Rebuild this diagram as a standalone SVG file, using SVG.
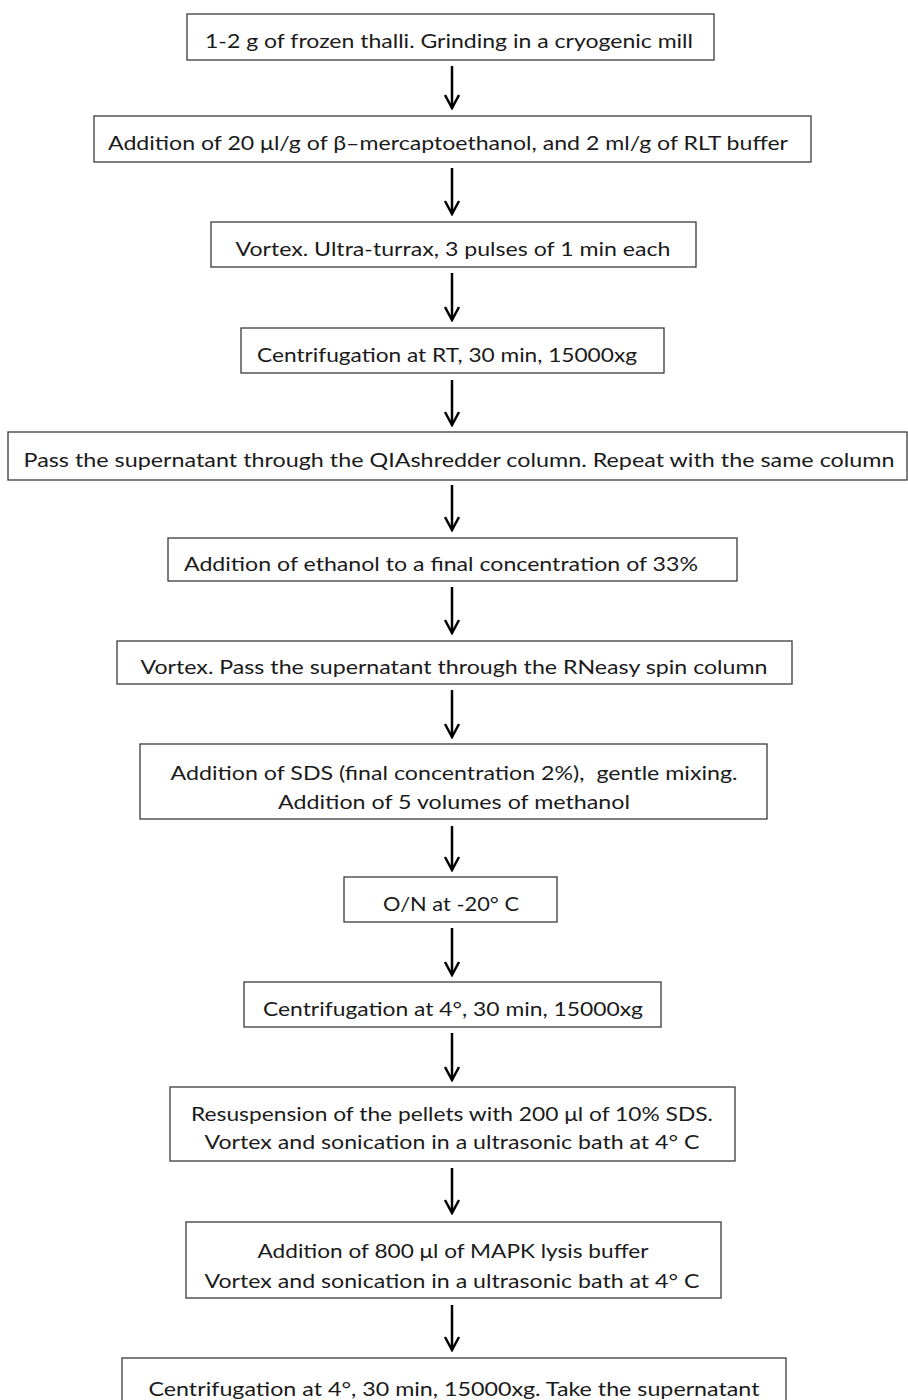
<svg xmlns="http://www.w3.org/2000/svg" width="908" height="1400" viewBox="0 0 908 1400">
<style>
.box{fill:#fff;stroke:#3a3a3a;stroke-width:1.3}
.t{font-family:Lato,"Open Sans","Liberation Sans",sans-serif;font-size:20px;fill:#1a1a1a;text-anchor:middle}
.c{stroke:#000;stroke-width:2.5;fill:none}
</style>
<defs>
<marker id="ah" markerUnits="userSpaceOnUse" viewBox="-16 -10 18 20" markerWidth="18" markerHeight="20" refX="0" refY="0" orient="auto">
<path d="M-13,-7 L0,0 L-13,7" stroke="#000" stroke-width="2.5" fill="none"/>
</marker>
</defs>
<rect width="908" height="1400" fill="#fff"/>
<g id="connectors">
<path class="c" d="M452,66V108" marker-end="url(#ah)"/>
<path class="c" d="M452,168V214" marker-end="url(#ah)"/>
<path class="c" d="M452,273V320" marker-end="url(#ah)"/>
<path class="c" d="M452,380V425" marker-end="url(#ah)"/>
<path class="c" d="M452,485V530" marker-end="url(#ah)"/>
<path class="c" d="M452,587V633" marker-end="url(#ah)"/>
<path class="c" d="M452,690V737" marker-end="url(#ah)"/>
<path class="c" d="M452,826V870" marker-end="url(#ah)"/>
<path class="c" d="M452,928V975" marker-end="url(#ah)"/>
<path class="c" d="M452,1033V1080" marker-end="url(#ah)"/>
<path class="c" d="M452,1168V1213" marker-end="url(#ah)"/>
<path class="c" d="M452,1305V1350" marker-end="url(#ah)"/>
</g>
<g id="n1"><rect class="box" x="187" y="14" width="527" height="46"/>
<text class="t" x="449" y="48" textLength="488" lengthAdjust="spacingAndGlyphs">1-2 g of frozen thalli. Grinding in a cryogenic mill</text></g>
<g id="n2"><rect class="box" x="94" y="116" width="717" height="46"/>
<text class="t" x="448" y="150" textLength="680" lengthAdjust="spacingAndGlyphs">Addition of 20 μl/g of β–mercaptoethanol, and 2 ml/g of RLT buffer</text></g>
<g id="n3"><rect class="box" x="211" y="222" width="485" height="45"/>
<text class="t" x="453" y="256" textLength="435" lengthAdjust="spacingAndGlyphs">Vortex. Ultra-turrax, 3 pulses of 1 min each</text></g>
<g id="n4"><rect class="box" x="241" y="328" width="423" height="45"/>
<text class="t" x="447" y="362" textLength="380" lengthAdjust="spacingAndGlyphs">Centrifugation at RT, 30 min, 15000xg</text></g>
<g id="n5"><rect class="box" x="8" y="432" width="899" height="48"/>
<text class="t" x="459" y="467" textLength="871" lengthAdjust="spacingAndGlyphs">Pass the supernatant through the QIAshredder column. Repeat with the same column</text></g>
<g id="n6"><rect class="box" x="168" y="538" width="569" height="43"/>
<text class="t" x="441" y="571" textLength="514" lengthAdjust="spacingAndGlyphs">Addition of ethanol to a final concentration of 33%</text></g>
<g id="n7"><rect class="box" x="117" y="641" width="675" height="43"/>
<text class="t" x="454" y="674" textLength="627" lengthAdjust="spacingAndGlyphs">Vortex. Pass the supernatant through the RNeasy spin column</text></g>
<g id="n8"><rect class="box" x="140" y="744" width="627" height="75"/>
<text class="t" x="454" y="780" textLength="567" lengthAdjust="spacingAndGlyphs" xml:space="preserve">Addition of SDS (final concentration 2%),  gentle mixing.</text>
<text class="t" x="454" y="809" textLength="352" lengthAdjust="spacingAndGlyphs">Addition of 5 volumes of methanol</text></g>
<g id="n9"><rect class="box" x="344" y="877" width="213" height="45"/>
<text class="t" x="451" y="911" textLength="136" lengthAdjust="spacingAndGlyphs">O/N at -20° C</text></g>
<g id="n10"><rect class="box" x="244" y="982" width="417" height="45"/>
<text class="t" x="453" y="1016" textLength="380" lengthAdjust="spacingAndGlyphs">Centrifugation at 4°, 30 min, 15000xg</text></g>
<g id="n11"><rect class="box" x="170" y="1087" width="565" height="74"/>
<text class="t" x="452" y="1121" textLength="522" lengthAdjust="spacingAndGlyphs">Resuspension of the pellets with 200 μl of 10% SDS.</text>
<text class="t" x="452" y="1149" textLength="495" lengthAdjust="spacingAndGlyphs">Vortex and sonication in a ultrasonic bath at 4° C</text></g>
<g id="n12"><rect class="box" x="186" y="1222" width="535" height="76"/>
<text class="t" x="453" y="1258" textLength="391" lengthAdjust="spacingAndGlyphs">Addition of 800 μl of MAPK lysis buffer</text>
<text class="t" x="452" y="1288" textLength="495" lengthAdjust="spacingAndGlyphs">Vortex and sonication in a ultrasonic bath at 4° C</text></g>
<g id="n13"><rect class="box" x="122" y="1358" width="664" height="50"/>
<text class="t" x="454" y="1396" textLength="611" lengthAdjust="spacingAndGlyphs">Centrifugation at 4°, 30 min, 15000xg. Take the supernatant</text></g>
</svg>
